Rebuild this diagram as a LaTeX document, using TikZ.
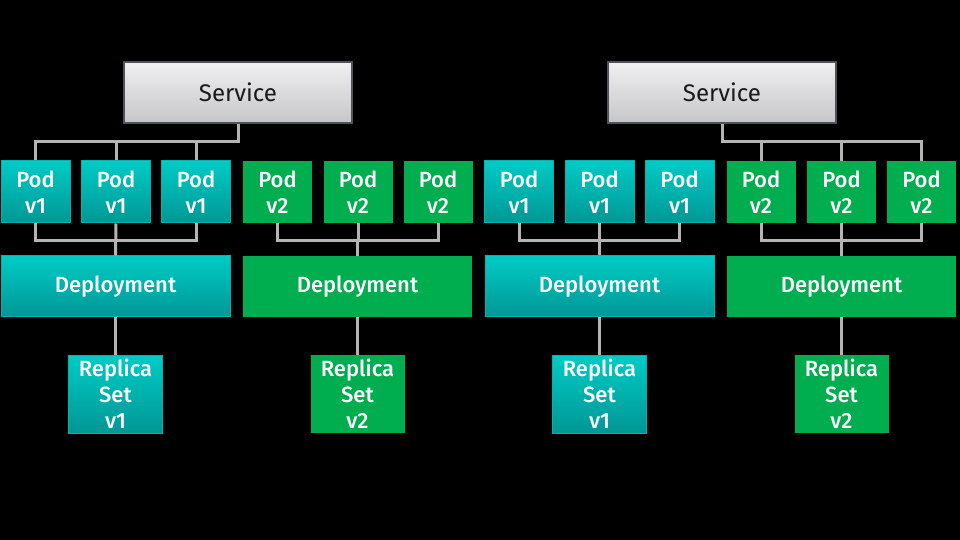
\documentclass[tikz,border=0pt]{standalone}
\usepackage{fontspec}
\setmainfont{Fira Sans}
\newfontfamily\medfont{Fira Sans}[UprightFont={* Medium}]
\usepackage{tikz}
\usetikzlibrary{positioning,calc}
\definecolor{svctop}{HTML}{F0F0F1}
\definecolor{svcbot}{HTML}{C6C6CA}
\definecolor{svcedge}{HTML}{4E535C}
\definecolor{tealtop}{HTML}{00CBC6}
\definecolor{tealbot}{HTML}{009794}
\definecolor{tealedge}{HTML}{00B3B0}
\definecolor{podgreen}{HTML}{00AD4F}
\definecolor{wire}{HTML}{B4B4B4}

\begin{document}
\begin{tikzpicture}[x=0.5pt, y=-0.5pt,
  svc/.style={rectangle, draw=svcedge, line width=0.6pt, top color=svctop, bottom color=svcbot, minimum width=114pt, minimum height=30.5pt, inner sep=0pt, font=\fontsize{12}{14}\selectfont, text=black!90},
  podone/.style={rectangle, draw=tealedge, line width=0.5pt, top color=tealtop, bottom color=tealbot, inner sep=0pt, text=white, align=center, font=\fontsize{11}{13}\selectfont\medfont},
  podtwo/.style={rectangle, fill=podgreen, inner sep=0pt, text=white, align=center, font=\fontsize{11}{13}\selectfont\medfont},
  pod/.style={minimum width=34.5pt, minimum height=31pt},
  depl/.style={minimum width=114.5pt, minimum height=30.5pt},
  rset/.style={minimum width=47pt, minimum height=39pt},
  link/.style={draw=wire, line width=1.5pt}
]
\useasboundingbox (0,0) rectangle (960,540);
\fill[black] (0,0) rectangle (960,540);

% left half
\node[svc] (svcL) at (238,92.5) {Service};
\node[podone, pod] (podL1) at (35.5,192) {Pod\\v1};
\node[podone, pod] (podL2) at (116,192) {Pod\\v1};
\node[podone, pod] (podL3) at (196,192) {Pod\\v1};
\node[podtwo, pod] (podL4) at (277.5,192) {Pod\\v2};
\node[podtwo, pod] (podL5) at (358,192) {Pod\\v2};
\node[podtwo, pod] (podL6) at (438,192) {Pod\\v2};
\node[podone, depl] (depL1) at (115.5,286.5) {Deployment};
\node[podtwo, depl] (depL2) at (357.5,286.5) {Deployment};
\node[podone, rset] (rsL1) at (115.5,394) {Replica\\Set\\v1};
\node[podtwo, rset] (rsL2) at (357.5,394) {Replica\\Set\\v2};

% right half
\node[svc] (svcR) at (722,92.5) {Service};
\node[podone, pod] (podR1) at (519,192) {Pod\\v1};
\node[podone, pod] (podR2) at (599.5,192) {Pod\\v1};
\node[podone, pod] (podR3) at (679.5,192) {Pod\\v1};
\node[podtwo, pod] (podR4) at (761,192) {Pod\\v2};
\node[podtwo, pod] (podR5) at (841.5,192) {Pod\\v2};
\node[podtwo, pod] (podR6) at (921.5,192) {Pod\\v2};
\node[podone, depl] (depR1) at (599.5,286.5) {Deployment};
\node[podtwo, depl] (depR2) at (841.5,286.5) {Deployment};
\node[podone, rset] (rsR1) at (599.5,394) {Replica\\Set\\v1};
\node[podtwo, rset] (rsR2) at (841.5,394) {Replica\\Set\\v2};

% service -> pods
\draw[link] (podL1.north) -- ++(0,-19) -| (svcL.south);
\draw[link] (podL2.north) -- ++(0,-19) -| (svcL.south);
\draw[link] (podL3.north) -- ++(0,-19) -| (svcL.south);
\draw[link] (podR4.north) -- ++(0,-19) -| (svcR.south);
\draw[link] (podR5.north) -- ++(0,-19) -| (svcR.south);
\draw[link] (podR6.north) -- ++(0,-19) -| (svcR.south);

% pods -> deployments
\draw[link] (podL1.south) -- ++(0,17) -| (depL1.north);
\draw[link] (podL2.south) -- (depL1.north);
\draw[link] (podL3.south) -- ++(0,17) -| (depL1.north);
\draw[link] (podL4.south) -- ++(0,17) -| (depL2.north);
\draw[link] (podL5.south) -- ++(0,17) -| (depL2.north);
\draw[link] (podL6.south) -- ++(0,17) -| (depL2.north);
\draw[link] (podR1.south) -- ++(0,17) -| (depR1.north);
\draw[link] (podR2.south) -- (depR1.north);
\draw[link] (podR3.south) -- ++(0,17) -| (depR1.north);
\draw[link] (podR4.south) -- ++(0,17) -| (depR2.north);
\draw[link] (podR5.south) -- (depR2.north);
\draw[link] (podR6.south) -- ++(0,17) -| (depR2.north);

% deployments -> replica sets
\draw[link] (depL1.south) -- (rsL1.north);
\draw[link] (depL2.south) -- (rsL2.north);
\draw[link] (depR1.south) -- (rsR1.north);
\draw[link] (depR2.south) -- (rsR2.north);
\end{tikzpicture}
\end{document}
